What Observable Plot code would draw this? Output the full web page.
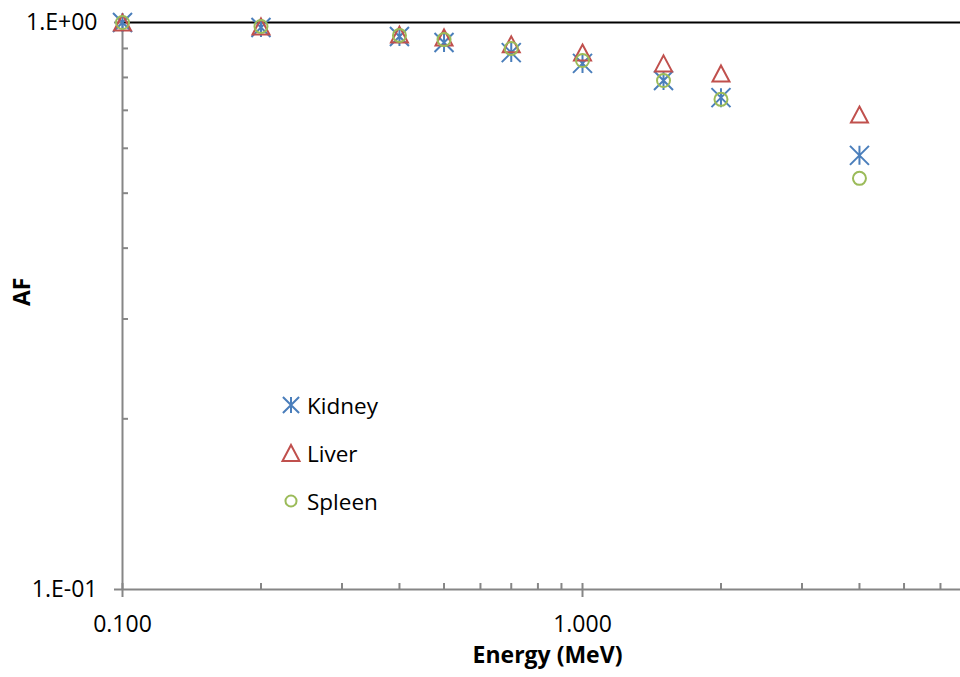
<!DOCTYPE html>
<html><head><meta charset="utf-8">
<script src="https://cdn.jsdelivr.net/npm/d3@7"></script>
<script src="https://cdn.jsdelivr.net/npm/@observablehq/plot@0.6"></script>
<style>
body{margin:0;background:#fff;font-family:"Open Sans",sans-serif;}
#wrap{position:relative;width:960px;height:677px;overflow:hidden;}
#legend{position:absolute;left:280px;top:381px;font-size:22.5px;color:#000;}
#legend .row{display:flex;align-items:center;height:48px;}
#legend svg{display:block;margin-right:5px;}
</style></head><body><div id="wrap"></div>
<script>
// Data
const energies = [0.1, 0.2, 0.4, 0.5, 0.7, 1.0, 1.5, 2.0, 4.0];
const kidney = [1.0, 0.980, 0.945, 0.922, 0.885, 0.847, 0.790, 0.737, 0.583];
const liver  = [1.0, 0.984, 0.952, 0.941, 0.915, 0.885, 0.847, 0.813, 0.688];
const spleen = [1.0, 0.984, 0.949, 0.933, 0.900, 0.857, 0.790, 0.732, 0.531];
const seriesNames = ["Kidney", "Liver", "Spleen"];
const seriesColors = ["#4A7EBB", "#C0504D", "#9BBB59"];
const xMajorTicks = [0.1, 1];
const xMinorTicks = [0.2, 0.3, 0.4, 0.5, 0.6, 0.7, 0.8, 0.9, 2, 3, 4, 5, 6];
const yMajorTicks = [0.1, 1];
const yMajorLabels = ["1.E-01", "1.E+00"];
const yMinorTicks = [0.2, 0.3, 0.4, 0.5, 0.6, 0.7, 0.8, 0.9];
const xLabel = "Energy (MeV)";
const yLabel = "AF";

const seriesValues = [kidney, liver, spleen];
const rows = seriesNames.flatMap((name, s) =>
  energies.map((e, i) => ({series: name, energy: e, af: seriesValues[s][i]})));

// Excel-like marker shapes
const starSym = {draw(c) {
  const r = 9.5;
  c.moveTo(0, -r); c.lineTo(0, r);
  c.moveTo(-r, -r); c.lineTo(r, r);
  c.moveTo(-r, r); c.lineTo(r, -r);
}};
const triSym = {draw(c) {
  c.moveTo(0, -8); c.lineTo(8.5, 8); c.lineTo(-8.5, 8); c.closePath();
}};
const circSym = {draw(c) {
  c.moveTo(6.5, 0); c.arc(0, 0, 6.5, 0, 2 * Math.PI);
}};
const symbols = [starSym, triSym, circSym];

const gray = "#868686";
const font = "'Open Sans', sans-serif";
const fs = 23;

const plot = Plot.plot({
  width: 960, height: 677,
  marginLeft: 122, marginRight: 0, marginTop: 22, marginBottom: 88,
  style: {fontFamily: font, fontSize: fs + "px", color: "#000", background: "#fff", overflow: "visible"},
  x: {type: "log", domain: [0.1, 6.633], label: null},
  y: {type: "log", domain: [0.1, 1], label: null},
  marks: [
    Plot.ruleY([1], {stroke: "#000", strokeWidth: 2}),
    Plot.ruleX([0.1], {stroke: gray, strokeWidth: 2}),
    Plot.ruleY([0.1], {stroke: gray, strokeWidth: 2}),
    Plot.axisX(xMinorTicks, {anchor: "bottom", tickSize: 6, dy: -6, tickFormat: () => "", stroke: gray, strokeWidth: 2, label: null}),
    Plot.axisX(xMajorTicks, {anchor: "bottom", tickSize: 14, dy: -6, tickFormat: () => "", stroke: gray, strokeWidth: 2, label: null}),
    Plot.axisX(xMajorTicks, {anchor: "bottom", tickSize: 0, tickPadding: 26, tickFormat: d3.format(".3f"), fontSize: fs, fill: "#000", label: null}),
    Plot.axisY(yMinorTicks, {anchor: "left", tickSize: 6, dx: 6, tickFormat: () => "", stroke: gray, strokeWidth: 2, label: null}),
    Plot.axisY(yMajorTicks, {anchor: "left", tickSize: 8, tickFormat: () => "", stroke: gray, strokeWidth: 2, label: null}),
    Plot.axisY(yMajorTicks, {anchor: "left", tickSize: 0, tickPadding: 25, tickFormat: d => yMajorLabels[yMajorTicks.indexOf(d)], fontSize: fs, fill: "#000", label: null}),
    Plot.text([xLabel], {text: d => d, frameAnchor: "bottom", dx: 6, dy: 73, fontWeight: "bold", fontSize: fs, fill: "#000"}),
    Plot.text([yLabel], {text: d => d, frameAnchor: "left", dx: -100, rotate: -90, fontWeight: "bold", fontSize: fs, fill: "#000"}),
    ...seriesNames.map((name, s) =>
      Plot.dot(rows.filter(d => d.series === name), {
        x: "energy", y: "af", symbol: symbols[s], r: 8,
        stroke: seriesColors[s], strokeWidth: 2, fill: "none"
      }))
  ]
});

const wrap = document.getElementById("wrap");
wrap.appendChild(plot);

// Legend
const legend = d3.select(wrap).append("div").attr("id", "legend");
seriesNames.forEach((name, s) => {
  const row = legend.append("div").attr("class", "row");
  const svg = row.append("svg").attr("width", 22).attr("height", 22).attr("viewBox", "-11 -11 22 22");
  const p = d3.path();
  const scale = s === 1 ? 1 : 0.85;
  symbols[s].draw(p);
  svg.append("path").attr("d", p.toString())
    .attr("transform", `scale(${scale})`)
    .attr("fill", "none").attr("stroke", seriesColors[s]).attr("stroke-width", 2 / scale);
  row.append("span").text(name);
});
</script>
</body></html>
